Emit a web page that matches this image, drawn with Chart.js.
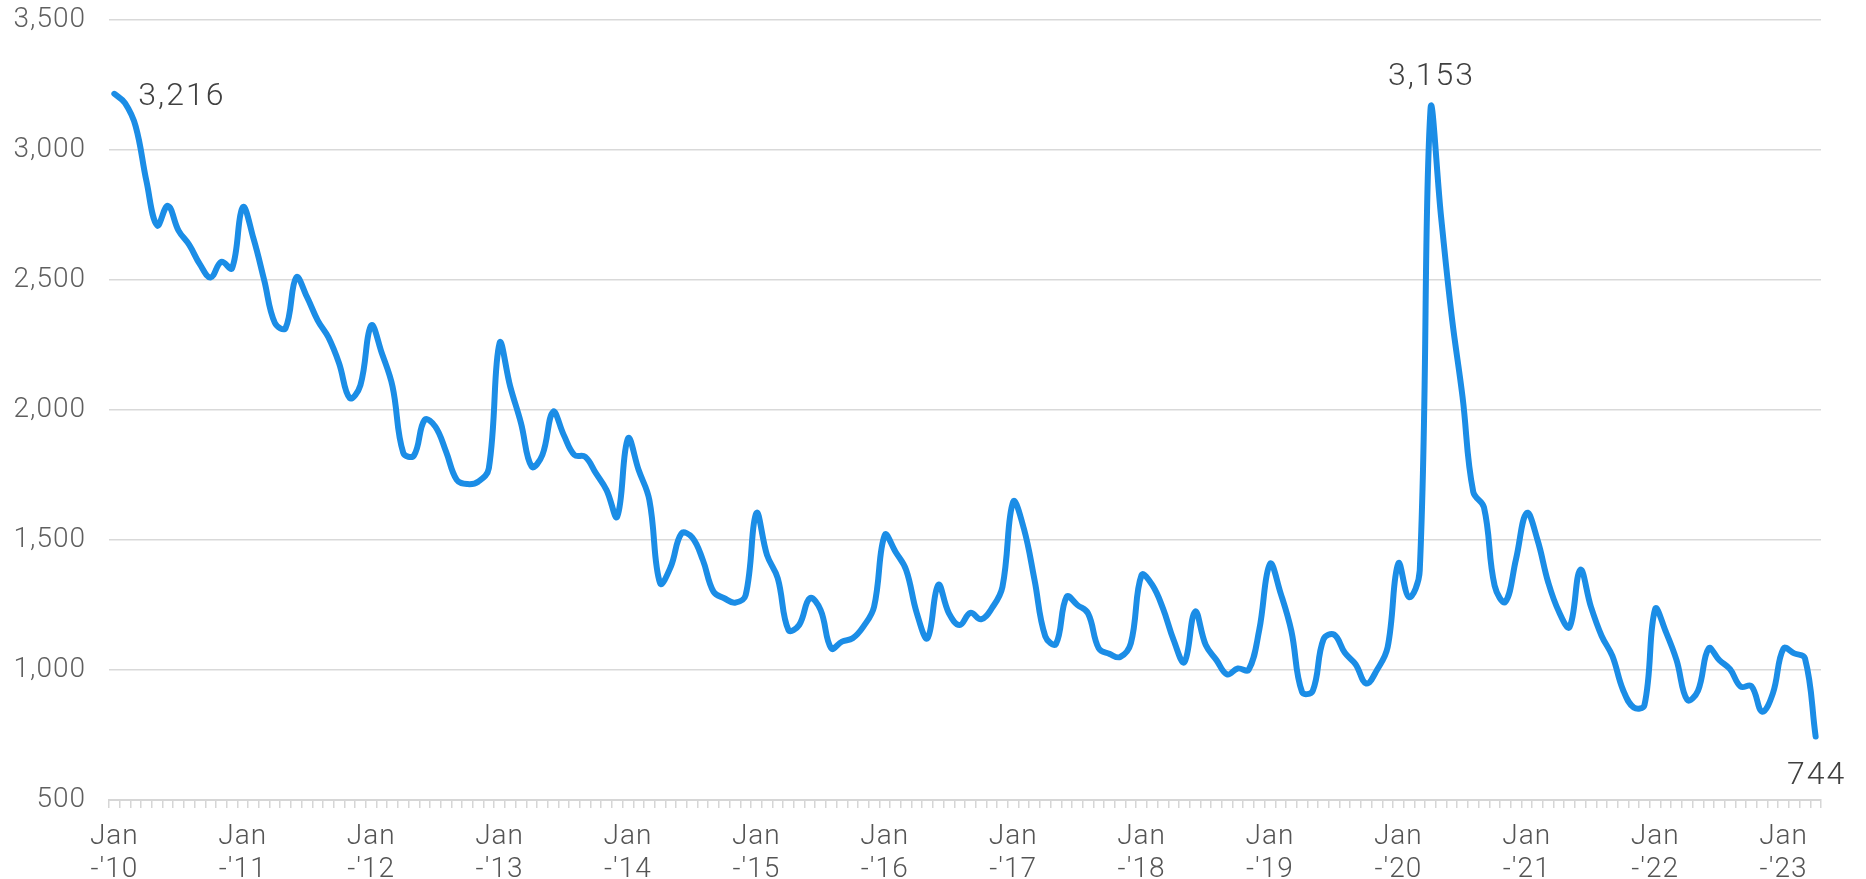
<!DOCTYPE html>
<html>
<head>
<meta charset="utf-8">
<script src="https://cdn.jsdelivr.net/npm/chart.js@4.4.1/dist/chart.umd.min.js"></script>
<style>
  html, body { margin: 0; padding: 0; background: #ffffff; }
  #wrap { width: 1866px; height: 879px; position: relative; }
</style>
</head>
<body>
<div id="wrap"><canvas id="c"></canvas></div>
<script>
// ---- data (monthly, Jan 2010 - Apr 2023) ----
const yearLabels = ['10','11','12','13','14','15','16','17','18','19','20','21','22','23'];
const monthNames = ['Jan','Feb','Mar','Apr','May','Jun','Jul','Aug','Sep','Oct','Nov','Dec'];
const values = [
  3216, 3180, 3090, 2880, 2710, 2785, 2690, 2635, 2560, 2510, 2570, 2545,
  2780, 2660, 2500, 2335, 2315, 2510, 2435, 2345, 2280, 2180, 2046, 2096,
  2325, 2218, 2090, 1835, 1825, 1962, 1936, 1840, 1731, 1715, 1724, 1776,
  2257, 2090, 1950, 1782, 1827, 1993, 1904, 1827, 1820, 1757, 1692, 1590,
  1890, 1769, 1654, 1334, 1397, 1525, 1510, 1423, 1301, 1276, 1259, 1288,
  1603, 1442, 1353, 1154, 1173, 1276, 1231, 1083, 1109, 1122, 1167, 1243,
  1519, 1455, 1385, 1218, 1122, 1327, 1218, 1173, 1220, 1195, 1237, 1320,
  1647, 1544, 1346, 1130, 1100, 1282, 1250, 1218, 1083, 1062, 1050, 1103,
  1365, 1327, 1237, 1115, 1030, 1224, 1096, 1038,  983, 1006, 1000, 1154,
  1408, 1295, 1150,  915,  920, 1118, 1136, 1066, 1022,  948, 1000, 1088,
  1410, 1280, 1383, 3153, 2740, 2356, 2050, 1685, 1626, 1324, 1262, 1427,
  1604, 1501, 1338, 1225, 1165, 1385, 1243, 1131, 1054,  923,  856,  865,
  1234, 1147, 1038,  885,  920, 1083, 1038, 1003,  936,  938,  840,  910,
  1083, 1064, 1045,  744
];
const yTicks = [500, 1000, 1500, 2000, 2500, 3000, 3500];
const calloutIndex = [0, 123, 159];
const calloutPlace = ['right', 'above', 'below'];

// category labels built from the year / month lists
const categories = [];
for (let y = 0; y < yearLabels.length; y++) {
  for (let m = 0; m < 12; m++) {
    if (categories.length < values.length) categories.push(monthNames[m] + " '" + yearLabels[y]);
  }
}

const FONT = 'Roboto, "Noto Sans", sans-serif';
const fmt = v => v.toLocaleString('en-US');

const spacingPlugin = {
  id: 'spacing',
  beforeInit(chart) { chart.ctx.letterSpacing = '1px'; },
  beforeUpdate(chart) { chart.ctx.letterSpacing = '1px'; },
  beforeDraw(chart) { chart.ctx.letterSpacing = '1px'; }
};

const calloutPlugin = {
  id: 'callouts',
  afterDatasetsDraw(chart) {
    const ctx = chart.ctx;
    const xs = chart.scales.x, ys = chart.scales.y;
    ctx.save();
    ctx.letterSpacing = '2px';
    ctx.font = '300 32px ' + FONT;
    ctx.fillStyle = '#404040';
    calloutIndex.forEach((idx, k) => {
      const px = xs.getPixelForValue(idx);
      const py = ys.getPixelForValue(values[idx]);
      const txt = fmt(values[idx]);
      const place = calloutPlace[k];
      ctx.textBaseline = 'middle';
      if (place === 'right') {
        ctx.textAlign = 'left';
        ctx.fillText(txt, px + 24, py + 3);
      } else if (place === 'above') {
        ctx.textAlign = 'center';
        ctx.fillText(txt, px + 1, py - 33);
      } else {
        ctx.textAlign = 'center';
        ctx.fillText(txt, px + 1, py + 39);
      }
    });
    ctx.restore();
  }
};

new Chart(document.getElementById('c'), {
  type: 'line',
  data: {
    labels: categories,
    datasets: [{
      data: values,
      borderColor: '#1b8de6',
      borderWidth: 6,
      pointRadius: 0,
      pointHoverRadius: 0,
      tension: 0.4,
      fill: false,
      borderCapStyle: 'round',
      borderJoinStyle: 'round'
    }]
  },
  options: {
    responsive: true,
    maintainAspectRatio: false,
    animation: false,
    events: [],
    layout: { padding: { top: 20, right: 45, bottom: 0, left: 0 } },
    plugins: { legend: { display: false }, tooltip: { enabled: false } },
    scales: {
      x: {
        type: 'category',
        offset: true,
        grid: {
          display: true,
          offset: true,
          drawOnChartArea: false,
          drawTicks: true,
          tickLength: 8,
          color: '#d6d6d6',
          lineWidth: 1.5
        },
        border: { display: true, color: '#d6d6d6', width: 2 },
        ticks: {
          autoSkip: false,
          maxRotation: 0,
          minRotation: 0,
          padding: 12,
          color: '#555555',
          font: { family: FONT, size: 28, weight: '300', lineHeight: 1.2 },
          callback: function (val, i) {
            if (i % 12 === 0) return ['Jan', "-'" + yearLabels[i / 12]];
            return '';
          }
        },
        afterFit: s => { s.height = 79; }
      },
      y: {
        min: yTicks[0],
        max: yTicks[yTicks.length - 1],
        afterBuildTicks: s => { s.ticks = yTicks.map(v => ({ value: v })); },
        grid: { color: '#d9d9d9', lineWidth: 1.5, drawTicks: false },
        border: { display: false },
        ticks: {
          padding: 23,
          color: '#5f5f5f',
          font: { family: FONT, size: 28, weight: '300' },
          callback: v => fmt(v)
        },
        afterFit: s => { s.width = 109; s.paddingTop = 0; s.paddingBottom = 0; }
      }
    }
  },
  plugins: [spacingPlugin, calloutPlugin]
});
</script>
</body>
</html>
